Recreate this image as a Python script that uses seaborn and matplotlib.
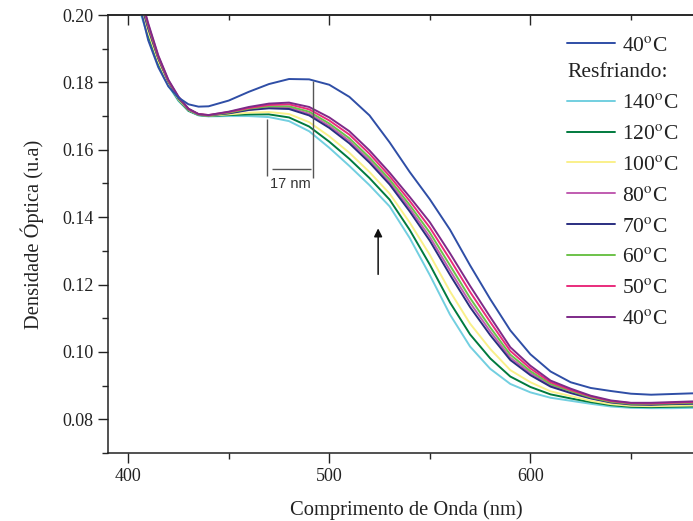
import numpy as np
import pandas as pd
import matplotlib
matplotlib.use("Agg")
import matplotlib.pyplot as plt
import seaborn as sns
from matplotlib.ticker import MultipleLocator, FormatStrFormatter

# ---------------- data ----------------
wavelength = [400, 405, 410, 415, 420, 425, 430, 435, 440, 450, 460, 470, 480, 490, 500,
              510, 520, 530, 540, 550, 560, 570, 580, 590, 600, 610, 620, 630, 640, 650,
              660, 670, 680, 690]

heat_40 = [0.2200, 0.2045, 0.1925, 0.1845, 0.1788, 0.1755, 0.1735, 0.1728, 0.1729, 0.1746,
           0.1772, 0.1795, 0.1810, 0.1809, 0.1793, 0.1757, 0.1702, 0.1622, 0.1534, 0.1453,
           0.1363, 0.1257, 0.1157, 0.1064, 0.0993, 0.0942, 0.0910, 0.0893, 0.0884, 0.0876,
           0.0873, 0.0875, 0.0877, 0.0878]

cool_140 = [0.2130, 0.2028, 0.1933, 0.1853, 0.1790, 0.1745, 0.1715, 0.1702, 0.1699, 0.1700,
            0.1700, 0.1697, 0.1685, 0.1655, 0.1606, 0.1552, 0.1495, 0.1432, 0.1338, 0.1228,
            0.1111, 0.1016, 0.0950, 0.0905, 0.0880, 0.0864, 0.0855, 0.0846, 0.0838, 0.0834,
            0.0833, 0.0833, 0.0834, 0.0835]
cool_120 = [0.2148, 0.2039, 0.1941, 0.1858, 0.1794, 0.1748, 0.1716, 0.1703, 0.1700, 0.1703,
            0.1705, 0.1705, 0.1696, 0.1669, 0.1624, 0.1573, 0.1516, 0.1452, 0.1362, 0.1259,
            0.1147, 0.1052, 0.0981, 0.0927, 0.0896, 0.0874, 0.0862, 0.0851, 0.0842, 0.0837,
            0.0836, 0.0837, 0.0838, 0.0839]
cool_100 = [0.2164, 0.2050, 0.1949, 0.1863, 0.1797, 0.1750, 0.1718, 0.1704, 0.1701, 0.1705,
            0.1710, 0.1712, 0.1706, 0.1682, 0.1640, 0.1591, 0.1534, 0.1470, 0.1384, 0.1288,
            0.1180, 0.1084, 0.1009, 0.0946, 0.0910, 0.0883, 0.0869, 0.0855, 0.0845, 0.0840,
            0.0839, 0.0840, 0.0841, 0.0842]
cool_80 = [0.2195, 0.2069, 0.1963, 0.1872, 0.1803, 0.1754, 0.1720, 0.1705, 0.1702, 0.1709,
           0.1719, 0.1726, 0.1725, 0.1707, 0.1671, 0.1626, 0.1569, 0.1504, 0.1426, 0.1341,
           0.1242, 0.1146, 0.1061, 0.0983, 0.0937, 0.0901, 0.0881, 0.0863, 0.0851, 0.0845,
           0.0845, 0.0846, 0.0848, 0.0849]
cool_70 = [0.2189, 0.2065, 0.1960, 0.1871, 0.1802, 0.1753, 0.1720, 0.1705, 0.1702, 0.1708,
           0.1718, 0.1723, 0.1721, 0.1702, 0.1665, 0.1619, 0.1562, 0.1497, 0.1417, 0.1330,
           0.1229, 0.1133, 0.1050, 0.0976, 0.0931, 0.0897, 0.0878, 0.0862, 0.0850, 0.0844,
           0.0843, 0.0845, 0.0846, 0.0847]
cool_60 = [0.2202, 0.2074, 0.1967, 0.1875, 0.1804, 0.1755, 0.1721, 0.1705, 0.1702, 0.1710,
           0.1722, 0.1729, 0.1729, 0.1713, 0.1678, 0.1634, 0.1577, 0.1512, 0.1436, 0.1354,
           0.1257, 0.1160, 0.1073, 0.0992, 0.0943, 0.0905, 0.0884, 0.0865, 0.0852, 0.0846,
           0.0846, 0.0847, 0.0849, 0.0850]
cool_50 = [0.2211, 0.2079, 0.1971, 0.1877, 0.1806, 0.1757, 0.1721, 0.1706, 0.1703, 0.1712,
           0.1724, 0.1733, 0.1735, 0.1720, 0.1687, 0.1645, 0.1588, 0.1522, 0.1448, 0.1369,
           0.1275, 0.1178, 0.1089, 0.1003, 0.0951, 0.0910, 0.0887, 0.0868, 0.0854, 0.0848,
           0.0847, 0.0849, 0.0851, 0.0852]
cool_40 = [0.2220, 0.2085, 0.1975, 0.1880, 0.1808, 0.1758, 0.1722, 0.1706, 0.1703, 0.1713,
           0.1727, 0.1737, 0.1740, 0.1727, 0.1696, 0.1655, 0.1598, 0.1532, 0.1460, 0.1385,
           0.1293, 0.1196, 0.1104, 0.1014, 0.0959, 0.0915, 0.0891, 0.0870, 0.0856, 0.0849,
           0.0849, 0.0851, 0.0853, 0.0854]

heat_label = "40$^{\\mathrm{o}}$C"
cool_labels = ["140$^{\\mathrm{o}}$C", "120$^{\\mathrm{o}}$C", "100$^{\\mathrm{o}}$C",
               "80$^{\\mathrm{o}}$C", "70$^{\\mathrm{o}}$C", "60$^{\\mathrm{o}}$C",
               "50$^{\\mathrm{o}}$C", "40$^{\\mathrm{o}}$C"]
cool_series = [cool_140, cool_120, cool_100, cool_80, cool_70, cool_60, cool_50, cool_40]
cool_colors = ["#72CFE0", "#007A3E", "#FAF08A", "#C05CB0", "#2A2E80", "#6CC24A",
               "#E92C7C", "#7E2A88"]
heat_color = "#2F4EA6"

# ---------------- style ----------------
sns.set_theme(style="ticks")
plt.rcParams["font.family"] = ["Liberation Serif", "DejaVu Serif"]
plt.rcParams["mathtext.fontset"] = "stix"

fig = plt.figure(figsize=(6.93, 5.21), dpi=100)
# the plot frame continues past the right edge of the picture (cropped original)
ax = fig.add_axes([108 / 693, 1 - 453 / 521, (705 - 108) / 693, (453 - 15) / 521])

cool_handles = []
for vals, col, lab in zip(cool_series, cool_colors, cool_labels):
    df = pd.DataFrame({"wl": wavelength, "od": vals})
    sns.lineplot(data=df, x="wl", y="od", color=col, lw=1.4, ax=ax, label=lab, legend=False)
    cool_handles.append(ax.get_lines()[-1])
df_h = pd.DataFrame({"wl": wavelength, "od": heat_40})
sns.lineplot(data=df_h, x="wl", y="od", color=heat_color, lw=1.4, ax=ax, label=heat_label, legend=False)
heat_handle = ax.get_lines()[-1]

ax.set_xlim(390, 686.8)
ax.set_ylim(0.07, 0.20)
ax.xaxis.set_major_locator(MultipleLocator(100))
ax.xaxis.set_minor_locator(MultipleLocator(50))
ax.yaxis.set_major_locator(MultipleLocator(0.02))
ax.yaxis.set_minor_locator(MultipleLocator(0.01))
ax.yaxis.set_major_formatter(FormatStrFormatter("%.2f"))
ax.tick_params(which="major", direction="out", length=7, width=1.0, labelsize=13, colors="#222222")
ax.tick_params(which="minor", direction="out", length=4, width=1.0)
ax.spines["right"].set_visible(False)
for s in ["left", "bottom", "top"]:
    ax.spines[s].set_linewidth(1.1)
    ax.spines[s].set_color("#222222")

sec = ax.secondary_xaxis("top")
sec.xaxis.set_major_locator(MultipleLocator(100))
sec.xaxis.set_minor_locator(MultipleLocator(50))
sec.tick_params(which="major", direction="in", length=7, width=1.0, labeltop=False)
sec.tick_params(which="minor", direction="in", length=3.5, width=1.0)
sec.spines["top"].set_linewidth(1.1)
sec.spines["top"].set_color("#222222")

ax.set_xlabel("Comprimento de Onda (nm)", fontsize=14.8, color="#222222", labelpad=11)
ax.set_ylabel("Densidade Óptica (u.a)", fontsize=14.8, color="#222222", labelpad=13)

# annotations: 17 nm shift and arrow
ann_color = "#555555"
ax.vlines(469.2, 0.1522, 0.1690, color=ann_color, lw=1.0)
ax.vlines(492.1, 0.1515, 0.1805, color=ann_color, lw=1.0)
ax.hlines(0.1543, 471.7, 491.0, color=ann_color, lw=1.0)
ax.text(480.9, 0.1498, "17 nm", ha="center", va="center", fontsize=10.5,
        family=["Liberation Sans", "DejaVu Sans"], color="#333333")
ax.annotate("", xy=(524.3, 0.1375), xytext=(524.3, 0.1222),
            arrowprops=dict(arrowstyle="-|>", color="#111111", lw=1.1, mutation_scale=12))

# legends (anchored in figure pixels so the wider axes does not move them)
leg_kw = dict(frameon=False, fontsize=15.5, handlelength=2.23, handletextpad=0.33,
              borderpad=0, borderaxespad=0, labelspacing=0.5, loc="upper left",
              bbox_transform=fig.transFigure)
leg1 = ax.legend([heat_handle], [heat_label],
                 bbox_to_anchor=(567 / 693, 1 - 35.5 / 521), **leg_kw)
ax.add_artist(leg1)
leg2 = ax.legend(cool_handles, cool_labels,
                 bbox_to_anchor=(567 / 693, 1 - 63.5 / 521),
                 title="Resfriando:", title_fontsize=15.5, alignment="left", **leg_kw)
for t in leg1.get_texts() + leg2.get_texts() + [leg2.get_title()]:
    t.set_color("#222222")

fig.savefig("out.png", dpi=100)
